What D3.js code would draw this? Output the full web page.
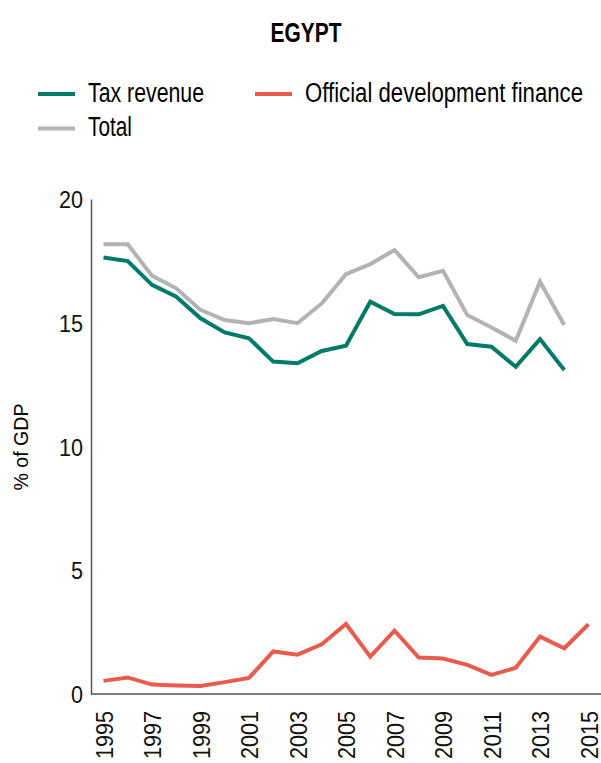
<!DOCTYPE html>
<html>
<head>
<meta charset="utf-8">
<script src="https://cdn.jsdelivr.net/npm/d3@7"></script>
<style>
  body { margin: 0; background: #fff; }
  svg { display: block; font-family: "Liberation Sans", Arial, sans-serif; }
</style>
</head>
<body>
<div id="chart"></div>
<script>
const years = d3.range(1995, 2016);
const tickYears = [1995, 1997, 1999, 2001, 2003, 2005, 2007, 2009, 2011, 2013, 2015];
const yTicks = [0, 5, 10, 15, 20];

const taxRevenue = [17.64, 17.49, 16.53, 16.05, 15.18, 14.61, 14.37, 13.43, 13.36, 13.86,
    14.07, 15.85, 15.35, 15.34, 15.68, 14.14, 14.03, 13.22, 14.34, 13.09, null];
const officialFinance = [0.53, 0.67, 0.38, 0.34, 0.32, 0.48, 0.65, 1.72, 1.59, 2.01,
    2.83, 1.51, 2.56, 1.47, 1.43, 1.18, 0.77, 1.06, 2.32, 1.85, 2.82];
const total = [18.17, 18.17, 16.90, 16.39, 15.52, 15.11, 14.98, 15.15, 14.98, 15.78,
    16.96, 17.37, 17.94, 16.84, 17.10, 15.31, 14.81, 14.27, 16.66, 14.91, null];

const seriesNames = ["Tax revenue", "Official development finance", "Total"];
const seriesColors = ["#007b69", "#e85c4e", "#b2b3b5"];

const width = 601, height = 763;
const axisX = 91;

// condensed look: squeeze each glyph run to a width
const charW = 12;

const svg = d3.select("#chart").append("svg")
    .attr("width", width)
    .attr("height", height);

const x = d3.scaleLinear().domain([1995, 2015]).range([103.5, 588.5]);
const y = d3.scaleLinear().domain([0, 20]).range([694, 199]);

// title
svg.append("text")
    .attr("x", 306)
    .attr("y", 42)
    .attr("text-anchor", "middle")
    .attr("textLength", 71)
    .attr("lengthAdjust", "spacingAndGlyphs")
    .style("font-size", "27px")
    .style("font-weight", "bold")
    .text("EGYPT");

// legend
const legendPos = [[38, 94], [255, 94], [38, 128.5]];
const legendTextW = [116, 278, 44];
const legend = svg.selectAll(".legend-item")
    .data(seriesNames)
    .enter()
    .append("g")
    .attr("class", "legend-item")
    .attr("transform", (d, i) => `translate(${legendPos[i][0]},${legendPos[i][1]})`);

legend.append("line")
    .attr("x1", 0).attr("x2", 37)
    .attr("stroke", (d, i) => seriesColors[i])
    .attr("stroke-width", 4);

legend.append("text")
    .attr("x", 50)
    .attr("y", 7.5)
    .attr("textLength", (d, i) => legendTextW[i])
    .attr("lengthAdjust", "spacingAndGlyphs")
    .style("font-size", "27px")
    .text(d => d);

// y axis
const yAxis = svg.append("g")
    .attr("transform", `translate(${axisX},0)`)
    .call(d3.axisLeft(y).tickValues(yTicks).tickSize(0).tickPadding(8));
yAxis.select(".domain").attr("stroke", "#555").attr("stroke-width", 1.5);
yAxis.selectAll("text")
    .attr("dy", "0.36em")
    .attr("textLength", function () { return this.textContent.length * charW; })
    .attr("lengthAdjust", "spacingAndGlyphs")
    .attr("fill", "#111")
    .style("font-size", "24px");

svg.append("text")
    .attr("transform", `translate(28,447) rotate(-90)`)
    .attr("text-anchor", "middle")
    .attr("textLength", 87)
    .attr("lengthAdjust", "spacingAndGlyphs")
    .style("font-size", "21px")
    .text("% of GDP");

// x axis
const xAxis = svg.append("g")
    .attr("transform", `translate(0,${y(0)})`)
    .call(d3.axisBottom(x).tickValues(tickYears).tickFormat(d3.format("d")).tickSize(0));
xAxis.select(".domain").remove();
xAxis.append("line")
    .attr("x1", axisX).attr("x2", width)
    .attr("stroke", "#555")
    .attr("stroke-width", 1.5);
xAxis.selectAll("text")
    .attr("transform", "rotate(-90)")
    .attr("x", -17)
    .attr("y", 0)
    .attr("dy", "0.36em")
    .attr("text-anchor", "end")
    .attr("textLength", function () { return this.textContent.length * charW; })
    .attr("lengthAdjust", "spacingAndGlyphs")
    .attr("fill", "#111")
    .style("font-size", "24px");

// lines
const line = d3.line()
    .defined(d => d.v !== null)
    .x(d => x(d.year))
    .y(d => y(d.v));

const seriesData = [taxRevenue, officialFinance, total];
const drawOrder = [2, 0, 1];

svg.selectAll(".series")
    .data(drawOrder)
    .enter()
    .append("path")
    .attr("class", "series")
    .attr("fill", "none")
    .attr("stroke", i => seriesColors[i])
    .attr("stroke-width", 4)
    .attr("stroke-linejoin", "miter")
    .attr("d", i => line(years.map((yr, j) => ({ year: yr, v: seriesData[i][j] }))));
</script>
</body>
</html>
